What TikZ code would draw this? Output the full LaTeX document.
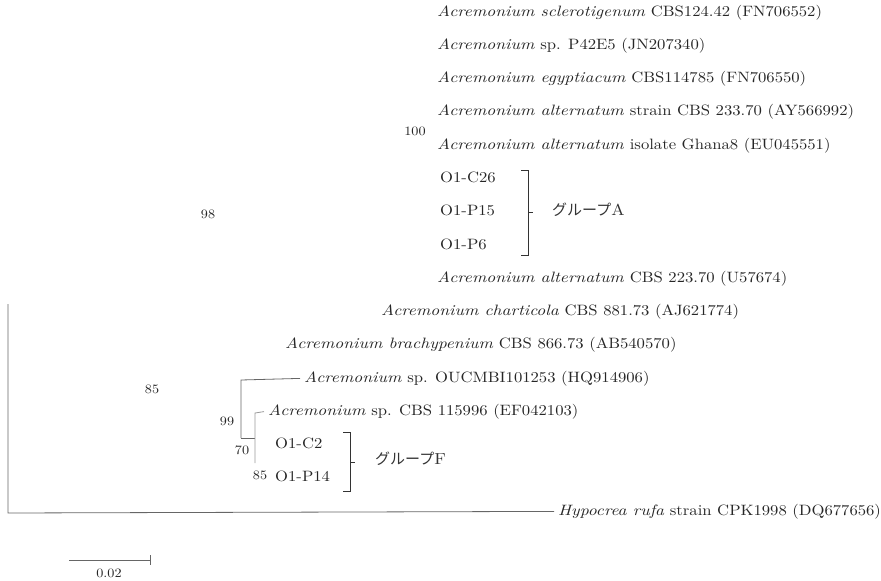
\documentclass[tikz,border=0pt]{standalone}
\usepackage{fontspec}
\newfontfamily\jpfont{Noto Sans CJK JP}
\newfontfamily\taxfont{lmroman10}[Extension=.otf, UprightFont=*-regular, ItalicFont=*-italic, UprightFeatures={FakeStretch=1.11}, ItalicFeatures={FakeStretch=1.17}]
\begin{document}
\begin{tikzpicture}[x=1pt,y=-1pt,
  taxon/.style={anchor=mid west, inner sep=0pt, text=black!85, font=\taxfont\fontsize{15}{17}\selectfont},
  boot/.style={inner sep=0pt, text=black!85, font=\taxfont\fontsize{12.8}{14}\selectfont},
  branch/.style={draw=black!60, line width=0.8pt},
  lightbranch/.style={draw=black!40, line width=0.8pt},
  brack/.style={draw=black!80, line width=0.8pt},
  grp/.style={anchor=mid west, inner sep=0pt, text=black!80, font=\taxfont\fontsize{16}{18}\selectfont},
]
\useasboundingbox (0,0) rectangle (881,581);
% taxa
\node[taxon] (t1)  at (437,14)    {\textit{Acremonium sclerotigenum} CBS124.42 (FN706552)};
\node[taxon] (t2)  at (437,47.3)  {\textit{Acremonium} sp. P42E5 (JN207340)};
\node[taxon] (t3)  at (437,80.5)  {\textit{Acremonium egyptiacum} CBS114785 (FN706550)};
\node[taxon] (t4)  at (437,113.8) {\textit{Acremonium alternatum} strain CBS 233.70 (AY566992)};
\node[taxon] (t5)  at (437,147.1) {\textit{Acremonium alternatum} isolate Ghana8 (EU045551)};
\node[taxon] (t6)  at (440,180.4) {O1-C26};
\node[taxon] (t7)  at (440,213.6) {O1-P15};
\node[taxon] (t8)  at (440,246.9) {O1-P6};
\node[taxon] (t9)  at (437,280.2) {\textit{Acremonium alternatum} CBS 223.70 (U57674)};
\node[taxon] (t10) at (381,313.4) {\textit{Acremonium charticola} CBS 881.73 (AJ621774)};
\node[taxon] (t11) at (285,346.7) {\textit{Acremonium brachypenium} CBS 866.73 (AB540570)};
\node[taxon] (t12) at (304,380)   {\textit{Acremonium} sp. OUCMBI101253 (HQ914906)};
\node[taxon] (t13) at (268,413.2) {\textit{Acremonium} sp. CBS 115996 (EF042103)};
\node[taxon] (t14) at (275,446.5) {O1-C2};
\node[taxon] (t15) at (275,479.8) {O1-P14};
\node[taxon] (t16) at (558,513)   {\textit{Hypocrea rufa} strain CPK1998 (DQ677656)};
% bootstrap values
\node[boot] (b100) at (415,131) {100};
\node[boot] (b98)  at (208,214) {98};
\node[boot] (b85a) at (152,389) {85};
\node[boot] (b99)  at (227,421) {99};
\node[boot] (b70)  at (242,450) {70};
\node[boot] (b85b) at (260,475) {85};
% tree
\coordinate (root top) at (8,304);
\coordinate (root) at (8,513);
\draw[branch] (root top) -- (root) -- ([xshift=-4pt]t16.west);
\coordinate (n99) at (241,380);
\coordinate (n99b) at (241,438);
\coordinate (n70) at (255,438);
\coordinate (n85t) at (255,413);
\coordinate (n85b) at (255,463);
\draw[branch] (n99b) -- (n99) -- ([xshift=-4pt]t12.west);
\draw[branch] (n99b) -- (n70);
\draw[lightbranch] (n85b) -- (n85t) -- ([xshift=-4pt]t13.west);
% group brackets
\draw[brack] (521,170) -- (528,170) -- (528,255) -- (521,255);
\coordinate (bA) at (528,212.5);
\node[grp] (gA) at (552,213) {{\jpfont\fontsize{15}{17}\selectfont グループ}A};
\draw[brack] (bA) -- ++(5,0);
\draw[brack] (343,432) -- (350,432) -- (350,491) -- (343,491);
\coordinate (bF) at (350,462);
\node[grp] (gF) at (375,462) {{\jpfont\fontsize{15}{17}\selectfont グループ}F};
\draw[brack] (bF) -- ++(5,0);
% scale bar
\coordinate (s1) at (69,560);
\coordinate (s2) at (150,560);
\draw[branch] (s1) -- (s2);
\draw[branch] (150,555) -- (150,565);
\node[boot] (sl) at (109,573) {0.02};
\end{tikzpicture}
\end{document}
